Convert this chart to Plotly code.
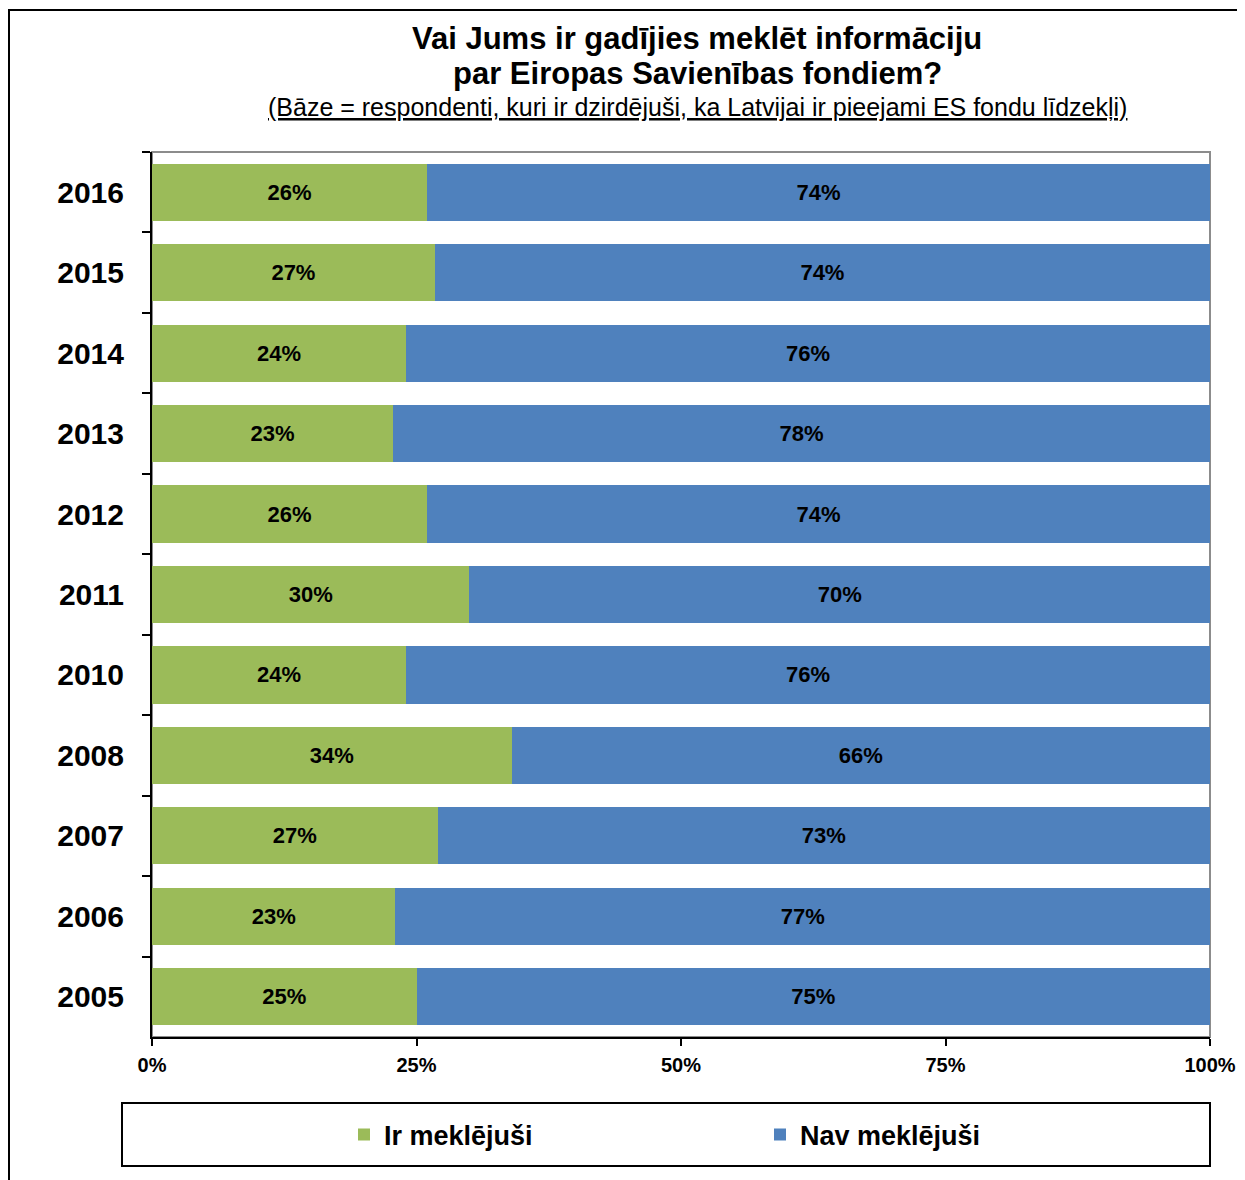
import plotly.graph_objects as go

years = ["2016", "2015", "2014", "2013", "2012", "2011", "2010", "2008", "2007", "2006", "2005"]
ir_meklejusi = [26, 27, 24, 23, 26, 30, 24, 34, 27, 23, 25]
nav_meklejusi = [74, 74, 76, 78, 74, 70, 76, 66, 73, 77, 75]
x_ticks = [0, 25, 50, 75, 100]
x_tick_labels = ["0%", "25%", "50%", "75%", "100%"]

W, H = 1245, 1180
OFF = 8  # page body margin
L, R, T, B = 152 - OFF, 1210 - OFF, 152 - OFF, 1037 - OFF

def px(x):
    return (x - OFF - L) / (R - L)

def py(y):
    return (B - (y - OFF)) / (B - T)

FONT = "Liberation Sans, Arial, sans-serif"
GREEN = "#9BBB59"
BLUE = "#4F81BD"

fig = go.Figure()
fig.add_trace(go.Bar(
    y=years, x=ir_meklejusi, orientation="h", name="Ir meklējuši",
    marker=dict(color=GREEN, line=dict(width=0)),
    text=[f"{v}%" for v in ir_meklejusi], textposition="inside",
    insidetextanchor="middle", textangle=0,
    textfont=dict(family=FONT, size=22, color="black", weight="bold"),
))
fig.add_trace(go.Bar(
    y=years, x=nav_meklejusi, orientation="h", name="Nav meklējuši",
    marker=dict(color=BLUE, line=dict(width=0)),
    text=[f"{v}%" for v in nav_meklejusi], textposition="inside",
    insidetextanchor="middle", textangle=0,
    textfont=dict(family=FONT, size=22, color="black", weight="bold"),
))

shapes = [
    dict(type="rect", xref="paper", yref="paper", x0=0, x1=1, y0=0, y1=1,
         line=dict(color="#8C8C8C", width=2), layer="below"),
    dict(type="line", xref="paper", yref="paper", x0=px(9), x1=px(9), y0=py(10), y1=py(1200),
         line=dict(color="black", width=2)),
    dict(type="line", xref="paper", yref="paper", x0=px(8), x1=px(1260), y0=py(10), y1=py(10),
         line=dict(color="black", width=2)),
    dict(type="rect", xref="paper", yref="paper", x0=px(122), x1=px(1210), y0=py(1166), y1=py(1103),
         line=dict(color="black", width=2)),
]

annotations = [
    dict(text="<b>Vai Jums ir gadījies meklēt informāciju</b>",
         xref="paper", yref="paper", x=px(697), y=py(38), xanchor="center", yanchor="middle",
         showarrow=False, font=dict(family=FONT, size=31, color="black")),
    dict(text="<b>par Eiropas Savienības fondiem?</b>",
         xref="paper", yref="paper", x=px(697), y=py(73), xanchor="center", yanchor="middle",
         showarrow=False, font=dict(family=FONT, size=31, color="black")),
    dict(text="<u>(Bāze = respondenti, kuri ir dzirdējuši, ka Latvijai ir pieejami ES fondu līdzekļi)</u>",
         xref="paper", yref="paper", x=px(697), y=py(107), xanchor="center", yanchor="middle",
         showarrow=False, font=dict(family=FONT, size=25, color="black")),
]

fig.update_layout(
    width=W, height=H,
    margin=dict(l=L, r=W - R, t=T, b=H - B, pad=0),
    barmode="stack", barnorm="percent", bargap=0.29,
    plot_bgcolor="white", paper_bgcolor="white",
    font=dict(family=FONT, color="black"),
    showlegend=True,
    legend=dict(orientation="h", x=px(344), y=py(1135), xanchor="left", yanchor="middle",
                font=dict(family=FONT, size=27, color="black", weight="bold"),
                entrywidth=371, bgcolor="rgba(0,0,0,0)", traceorder="normal"),
    shapes=shapes, annotations=annotations,
)
fig.update_xaxes(
    range=[0, 100], tickvals=x_ticks, ticktext=x_tick_labels,
    showgrid=False, zeroline=False, showline=True, linecolor="black", linewidth=2,
    ticks="outside", ticklen=7, tickcolor="black", tickwidth=2,
    tickfont=dict(family=FONT, size=20, color="black", weight="bold"),
    ticklabelstandoff=2, fixedrange=True,
)
fig.update_yaxes(
    categoryorder="array", categoryarray=years, autorange="reversed",
    showgrid=False, zeroline=False, showline=True, linecolor="black", linewidth=2,
    ticks="outside", tickson="boundaries", ticklen=8, tickcolor="black", tickwidth=2,
    tickfont=dict(family=FONT, size=30, color="black", weight="bold"),
    ticklabelstandoff=20, fixedrange=True,
)

fig.write_html("out.html")
